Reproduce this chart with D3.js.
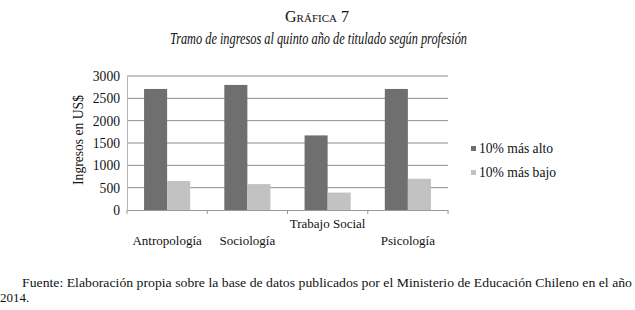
<!DOCTYPE html>
<html><head><meta charset="utf-8">
<script src="https://cdn.jsdelivr.net/npm/d3@7"></script>
<style>
body{margin:0;background:#fff;}
svg text{font-family:"Liberation Serif","Times New Roman",serif !important;fill:#111;}
</style></head>
<body>
<svg id="c" width="635" height="310"></svg>
<script>
const categories = ["Antropología","Sociología","Trabajo Social","Psicología"];
const seriesNames = ["10% más alto","10% más bajo"];
const altoValues = [2710, 2800, 1670, 2710];
const bajoValues = [650, 580, 390, 700];
const yTicks = [0,500,1000,1500,2000,2500,3000];
const colors = ["#6f6f6f","#c2c2c2"];

(function(){
const FF = "Liberation Serif";
const svg = d3.select("#c");
const pLeft = 127, pRight = 448, pTop = 76, pBottom = 210;

const x0 = d3.scaleBand().domain(categories).range([pLeft,pRight]).padding(0);
const x1 = d3.scaleBand().domain(seriesNames).range([0,x0.bandwidth()]).paddingInner(0).paddingOuter(0.74);
const y = d3.scaleLinear().domain([0,3000]).range([pBottom,pTop]);

// gridlines
svg.append("g").selectAll("line").data(yTicks.filter(d=>d>0)).join("line")
  .attr("x1",pLeft).attr("x2",pRight).attr("y1",d=>y(d)).attr("y2",d=>y(d))
  .attr("stroke","#8c8c8c").attr("stroke-width",1);

// y axis
const yAxis = svg.append("g").attr("transform",`translate(${pLeft},0)`)
  .call(d3.axisLeft(y).tickValues(yTicks).tickSize(0).tickPadding(7).tickFormat(d3.format("d")));
yAxis.attr("font-family",FF).attr("font-size",13.6);
yAxis.select(".domain").attr("stroke","#b5b5b5");
yAxis.selectAll("text").attr("fill","#111");

// bars
const data = categories.map((c,i)=>({cat:c, vals:[altoValues[i], bajoValues[i]]}));
const g = svg.append("g").selectAll("g").data(data).join("g")
  .attr("transform",d=>`translate(${x0(d.cat)},0)`);
g.selectAll("rect").data(d=>d.vals.map((v,j)=>({s:seriesNames[j],v,j}))).join("rect")
  .attr("x",d=>x1(d.s)).attr("width",x1.bandwidth())
  .attr("y",d=>y(d.v)).attr("height",d=>y(0)-y(d.v))
  .attr("fill",d=>colors[d.j]);

// x axis
const xAxis = svg.append("g").attr("transform",`translate(0,${pBottom})`)
  .call(d3.axisBottom(x0).tickSize(0).tickFormat(""));
xAxis.select(".domain").attr("stroke","#9a9a9a");
xAxis.selectAll(".tick").remove();
const bounds = categories.map(c=>x0(c)).concat([pRight]);
svg.append("g").selectAll("line").data(bounds).join("line")
  .attr("x1",d=>d).attr("x2",d=>d).attr("y1",pBottom).attr("y2",pBottom+4)
  .attr("stroke","#9a9a9a");
svg.append("g").selectAll("text").data(categories).join("text")
  .attr("x",d=>x0(d)+x0.bandwidth()/2)
  .attr("y",(d,i)=>i===2 ? 228 : 245)
  .attr("font-family",FF)
  .attr("text-anchor","middle").attr("font-size",13).text(d=>d);

// y label
svg.append("text").attr("transform","translate(83,140) rotate(-90)")
  .attr("font-family",FF)
  .attr("text-anchor","middle").attr("font-size",13.6).text("Ingresos en US$");

// legend
const lg = svg.append("g").selectAll("g").data(seriesNames).join("g")
  .attr("transform",(d,i)=>`translate(471,${153+i*24})`);
lg.append("rect").attr("x",0).attr("y",-7).attr("width",5).attr("height",5).attr("fill",(d,i)=>colors[i]);
lg.append("text").attr("x",8).attr("y",0).attr("font-family",FF).attr("font-size",13.6).text(d=>d);

// titles
svg.append("text").attr("x",317).attr("y",22).attr("text-anchor","middle")
  .attr("font-family",FF)
  .attr("font-size",16).style("font-variant","small-caps").text("Gráfica 7");
svg.append("text").attr("x",170).attr("y",44)
  .attr("font-family",FF).attr("textLength",297).attr("lengthAdjust","spacingAndGlyphs")
  .attr("font-size",17).attr("font-style","italic").text("Tramo de ingresos al quinto año de titulado según profesión");

// footnote
svg.append("text").attr("x",22).attr("y",287).attr("font-size",13)
  .attr("font-family",FF)
  .attr("textLength",610).attr("lengthAdjust","spacingAndGlyphs")
  .text("Fuente: Elaboración propia sobre la base de datos publicados por el Ministerio de Educación Chileno en el año");
svg.append("text").attr("x",0).attr("y",302).attr("font-family",FF).attr("font-size",13).text("2014.");
})();
</script>
</body></html>
